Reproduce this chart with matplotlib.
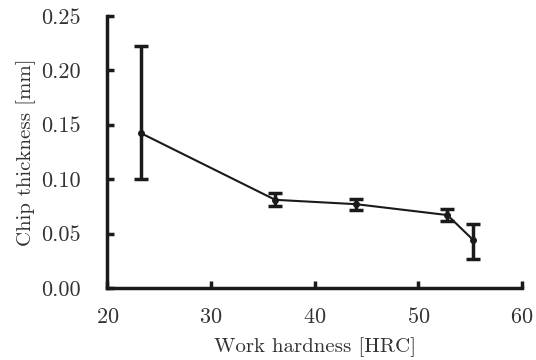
import matplotlib
matplotlib.use('Agg')
import matplotlib.pyplot as plt
from matplotlib.ticker import FormatStrFormatter

# chip thickness vs work hardness
hardness = [23.3, 36.2, 44.0, 52.8, 55.3]
thickness = [0.142, 0.081, 0.077, 0.067, 0.044]
err_low = [0.042, 0.006, 0.005, 0.005, 0.017]
err_high = [0.080, 0.006, 0.005, 0.006, 0.015]

plt.rcParams['font.family'] = 'serif'
plt.rcParams['font.serif'] = ['cmr10', 'DejaVu Serif']
plt.rcParams['axes.formatter.use_mathtext'] = True

fig = plt.figure(figsize=(5.36, 3.6), dpi=100)
ax = fig.add_axes([0.2, 0.2, 0.774, 0.756])

ax.errorbar(hardness, thickness, yerr=[err_low, err_high], color='#1a1a1a',
            lw=1.5, elinewidth=2.5, capsize=5, capthick=2.5,
            marker='o', ms=4)

ax.set_xlim(20, 60)
ax.set_ylim(0, 0.25)
ax.set_xticks([20, 30, 40, 50, 60])
ax.set_yticks([0, 0.05, 0.10, 0.15, 0.20, 0.25])
ax.yaxis.set_major_formatter(FormatStrFormatter('%.2f'))
for s in ['top', 'right']:
    ax.spines[s].set_visible(False)
for s in ['left', 'bottom']:
    ax.spines[s].set_linewidth(2.5)
    ax.spines[s].set_color('#1a1a1a')
ax.tick_params(direction='in', width=2.5, length=5, labelsize=16,
               colors='#1a1a1a', labelcolor='#333333')
ax.tick_params(axis='y', pad=19)
ax.tick_params(axis='x', pad=14)
ax.set_xlabel('Work hardness [HRC]', fontsize=15, color='#333333', labelpad=7)
ax.set_ylabel('Chip thickness [mm]', fontsize=15, color='#333333', labelpad=4)

fig.savefig('out.png', dpi=100)
